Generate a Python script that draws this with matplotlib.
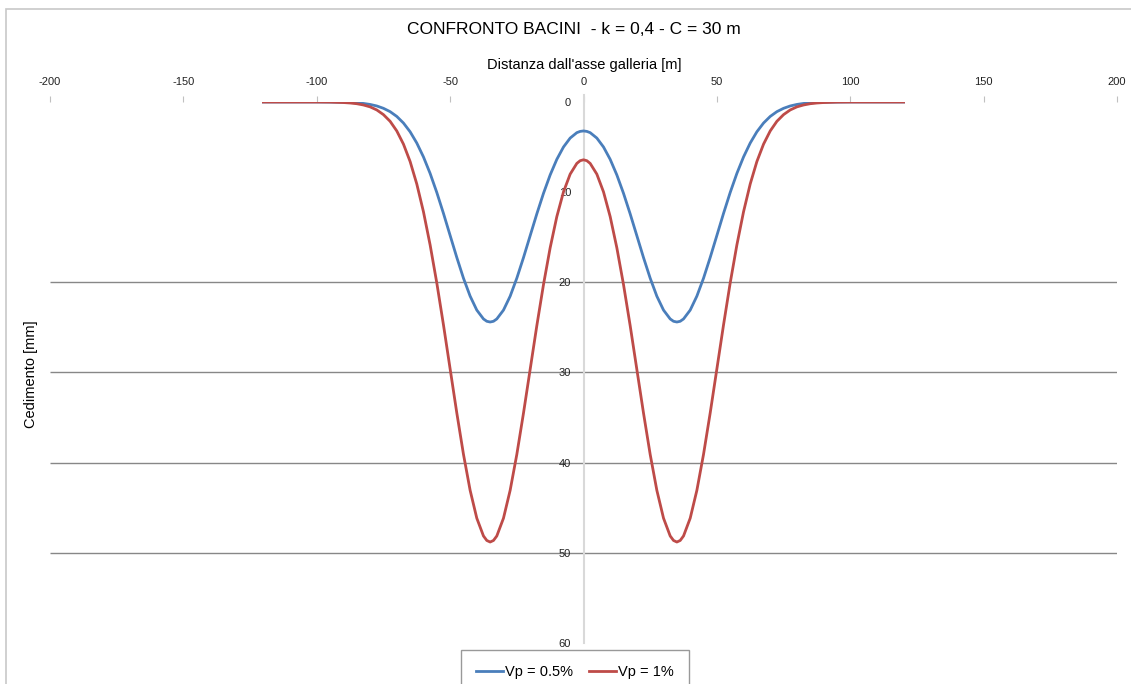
import matplotlib.pyplot as plt
from matplotlib.patches import Rectangle

plt.rcParams['font.family'] = ['Liberation Sans', 'DejaVu Sans']
plt.rcParams['axes.unicode_minus'] = False

# distanza dall'asse galleria [m]
x = [-120, -110, -100, -95, -90, -87.5, -85, -82.5, -80, -77.5, -75, -72.5, -70,
     -67.5, -65, -62.5, -60, -57.5, -55, -52.5, -50, -47.5, -45, -42.5, -40,
     -37.5, -36.25, -35, -33.75, -32.5, -30, -27.5, -25, -22.5, -20, -17.5, -15, -12.5, -10,
     -7.5, -5, -2.5, -1.25, 0, 1.25, 2.5, 5, 7.5, 10, 12.5, 15, 17.5, 20, 22.5, 25, 27.5,
     30, 32.5, 33.75, 35, 36.25, 37.5, 40, 42.5, 45, 47.5, 50, 52.5, 55, 57.5, 60, 62.5, 65,
     67.5, 70, 72.5, 75, 77.5, 80, 82.5, 85, 87.5, 90, 95, 100, 110, 120]

# cedimento [mm], Vp = 0.5%
ced_05 = [0, 0, 0, 0.01, 0.03, 0.05, 0.10, 0.16, 0.27, 0.44, 0.70, 1.07, 1.60,
          2.33, 3.30, 4.55, 6.09, 7.92, 10.03, 12.35, 14.80, 17.24, 19.54, 21.53, 23.08,
          24.06, 24.32, 24.40, 24.32, 24.06, 23.08, 21.54, 19.54, 17.26, 14.83, 12.41, 10.13, 8.09, 6.36,
          4.99, 4.00, 3.40, 3.26, 3.21, 3.26, 3.40, 4.00, 4.99, 6.36, 8.09, 10.13, 12.41, 14.83, 17.26,
          19.54, 21.54, 23.08, 24.06, 24.32, 24.40, 24.32, 24.06, 23.08, 21.53, 19.54, 17.24, 14.80,
          12.35, 10.03, 7.92, 6.09, 4.55, 3.30, 2.33, 1.60, 1.07, 0.70, 0.44, 0.27,
          0.16, 0.10, 0.05, 0.03, 0.01, 0, 0, 0]

# cedimento [mm], Vp = 1%
ced_1 = [0, 0, 0, 0.01, 0.06, 0.11, 0.19, 0.33, 0.54, 0.88, 1.40, 2.14, 3.21,
         4.67, 6.60, 9.09, 12.17, 15.85, 20.06, 24.71, 29.60, 34.48, 39.07, 43.07, 46.16,
         48.13, 48.63, 48.80, 48.63, 48.13, 46.16, 43.07, 39.09, 34.51, 29.66, 24.81, 20.25, 16.17, 12.71,
         9.97, 8.00, 6.81, 6.51, 6.41, 6.51, 6.81, 8.00, 9.97, 12.71, 16.17, 20.25, 24.81, 29.66, 34.51,
         39.09, 43.07, 46.16, 48.13, 48.63, 48.80, 48.63, 48.13, 46.16, 43.07, 39.07, 34.48, 29.60,
         24.71, 20.06, 15.85, 12.17, 9.09, 6.60, 4.67, 3.21, 2.14, 1.40, 0.88, 0.54,
         0.33, 0.19, 0.11, 0.06, 0.01, 0, 0, 0]

xticks = [-200, -150, -100, -50, 0, 50, 100, 150, 200]
yticks = [0, 10, 20, 30, 40, 50, 60]
grid_y = [20, 30, 40, 50]

W, H = 1131, 684
fig = plt.figure(figsize=(W / 100, H / 100), dpi=100)
ax = fig.add_axes([50 / W, 1 - 643 / H, (1117 - 50) / W, (643 - 102) / H])

# bordo del grafico (solo alto e sinistra visibili)
fig.patches.append(Rectangle((6 / W, -0.1), 1.2, 1 - 9 / H + 0.1, transform=fig.transFigure,
                             fill=False, edgecolor='#c8c8c8', lw=1.2))

ax.hlines(grid_y, -200, 200, color='#878787', lw=1.0, zorder=1)

ax.plot(x, ced_05, color='#4a7ebb', lw=2.0, label='Vp = 0.5%', zorder=3,
        solid_joinstyle='round')
ax.plot(x, ced_1, color='#be4b48', lw=2.0, label='Vp = 1%', zorder=3,
        solid_joinstyle='round')

ax.set_xlim(-200, 200)
ax.set_ylim(60, 0)
ax.set_xticks(xticks)
ax.set_yticks(yticks)

for s in ['top', 'right', 'bottom']:
    ax.spines[s].set_visible(False)
ax.spines['left'].set_position(('data', 0))
ax.spines['left'].set_color('#d9d9d9')
ax.spines['left'].set_linewidth(1.5)
ax.spines['left'].set_bounds(60, -0.8)

ax.xaxis.tick_top()
ax.tick_params(axis='x', which='both', top=True, bottom=False, length=4, width=0.8,
               color='#c0c0c0', labelsize=8, pad=7, labelcolor='#222222')
ax.tick_params(axis='y', length=0, labelsize=8, pad=9, labelcolor='#222222')

fig.text(574 / W, 1 - 30 / H, 'CONFRONTO BACINI  - k = 0,4 - C = 30 m', ha='center', va='center',
         fontsize=12.5)
fig.text(584 / W, 1 - 65 / H, "Distanza dall'asse galleria [m]", ha='center', va='center',
         fontsize=10.5)
fig.text(31 / W, 1 - 374 / H, 'Cedimento [mm]', ha='center', va='center', rotation=90,
         fontsize=10.5)

leg = fig.legend(loc='lower center', bbox_to_anchor=(575 / W, -0.02), ncol=2, fontsize=10.5,
                 frameon=True, fancybox=False, edgecolor='#808080', handlelength=1.85,
                 handletextpad=0.15, columnspacing=1.1, borderpad=1.0, borderaxespad=0.3)
leg.get_frame().set_linewidth(1.0)

fig.savefig('out.png', dpi=100)
